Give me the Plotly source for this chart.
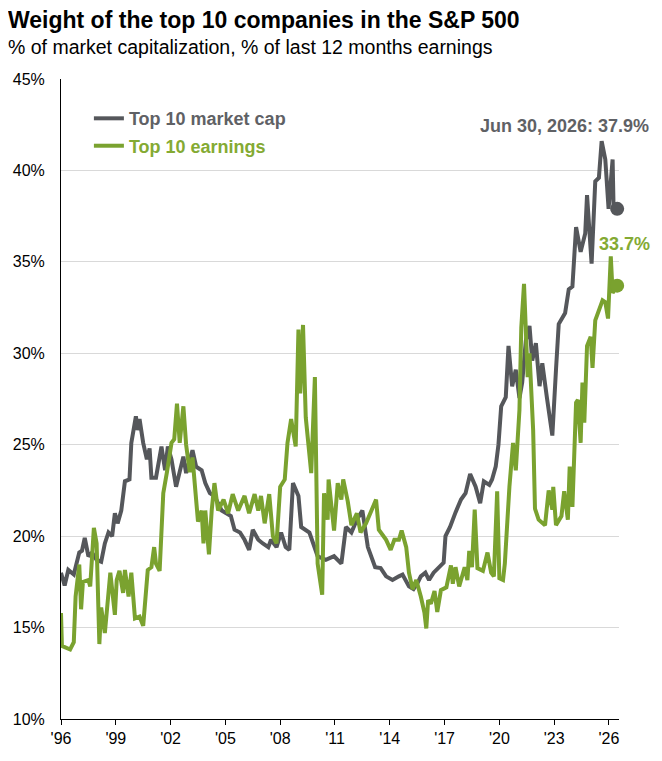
import plotly.graph_objects as go

# decimal years, values in %
cap_years = [
    1996.00, 1996.20, 1996.40, 1996.70, 1997.00, 1997.15, 1997.30, 1997.50,
    1997.70, 1997.95, 1998.20, 1998.40, 1998.60, 1998.80, 1998.95, 1999.10,
    1999.30, 1999.50, 1999.75, 1999.85, 2000.10, 2000.20, 2000.30, 2000.50,
    2000.70, 2000.85, 2000.95, 2001.20, 2001.50, 2001.70, 2001.85, 2002.05,
    2002.30, 2002.70, 2002.85, 2003.20, 2003.40, 2003.70, 2003.90, 2004.15,
    2004.40, 2004.80, 2005.05, 2005.30, 2005.50, 2005.80, 2006.05, 2006.30,
    2006.50, 2006.80, 2007.05, 2007.35, 2007.50, 2007.80, 2008.05, 2008.30,
    2008.50, 2008.70, 2009.00, 2009.15, 2009.60, 2009.90, 2010.05, 2010.50,
    2010.95, 2011.35, 2011.60, 2011.90, 2012.20, 2012.50, 2012.80, 2013.20,
    2013.50, 2013.80, 2014.15, 2014.50, 2014.70, 2015.05, 2015.30, 2015.50,
    2015.70, 2015.95, 2016.15, 2016.40, 2016.70, 2016.95, 2017.05, 2017.30,
    2017.60, 2017.90, 2018.15, 2018.40, 2018.70, 2018.95, 2019.15, 2019.45,
    2019.60, 2019.80, 2019.95, 2020.10, 2020.35, 2020.50, 2020.70, 2020.90,
    2021.10, 2021.25, 2021.45, 2021.65, 2021.80, 2022.00, 2022.20, 2022.35,
    2022.60, 2022.90, 2023.10, 2023.25, 2023.60, 2023.80, 2024.00, 2024.20,
    2024.45, 2024.70, 2024.80, 2025.05, 2025.25, 2025.45, 2025.60, 2025.80,
    2025.98, 2026.20, 2026.25, 2026.45,
]
cap_values = [
    18.0, 17.3, 18.15, 17.9, 19.1, 19.2, 19.9, 18.9,
    19.1, 18.7, 18.6, 19.6, 20.2, 20.0, 21.25, 20.7,
    21.4, 23.0, 23.1, 25.1, 26.55, 25.8, 26.4, 25.1,
    24.2, 24.8, 23.2, 23.2, 24.9, 23.6, 24.9, 24.2,
    22.7, 24.35, 23.45, 24.7, 23.8, 23.6, 22.9, 22.35,
    22.2, 21.4, 21.25, 21.1, 20.35, 20.2, 19.8, 19.25,
    20.35, 19.8, 19.6, 19.4, 19.8, 19.4, 20.2, 19.4,
    19.25, 22.9, 22.2, 20.5, 20.2, 19.25, 18.9, 18.7,
    18.9, 18.5, 20.5, 20.2, 20.9, 21.4, 19.4, 18.3,
    18.25, 17.8, 17.6, 17.8, 17.9, 17.25, 17.1, 17.4,
    17.8, 18.0, 17.6, 18.0, 18.3, 18.55, 20.0, 20.5,
    21.3, 22.0, 22.35, 23.4, 22.7, 21.8, 23.0, 22.8,
    23.1, 23.8, 25.0, 27.1, 27.6, 30.4, 28.2, 29.1,
    27.55, 28.4, 30.7, 31.5, 29.6, 30.55, 28.2, 29.45,
    27.6, 25.5, 29.1, 31.6, 32.2, 33.5, 33.65, 36.9,
    35.55, 36.55, 38.65, 34.9, 39.4, 39.6, 41.6, 40.6,
    37.9, 40.6, 38.1, 37.9,
]

earn_years = [
    1996.00, 1996.05, 1996.50, 1996.70, 1996.80, 1997.00, 1997.10, 1997.20,
    1997.50, 1997.60, 1997.80, 1997.95, 1998.10, 1998.20, 1998.40, 1998.70,
    1998.95, 1999.05, 1999.20, 1999.40, 1999.50, 1999.70, 1999.85, 2000.05,
    2000.30, 2000.50, 2000.75, 2000.95, 2001.10, 2001.20, 2001.40, 2001.60,
    2001.80, 2002.05, 2002.20, 2002.35, 2002.50, 2002.70, 2002.85, 2003.05,
    2003.20, 2003.30, 2003.50, 2003.70, 2003.80, 2003.90, 2004.10, 2004.25,
    2004.40, 2004.60, 2004.90, 2005.15, 2005.40, 2005.70, 2006.05, 2006.30,
    2006.60, 2006.80, 2006.95, 2007.15, 2007.40, 2007.60, 2007.80, 2008.00,
    2008.25, 2008.40, 2008.60, 2008.85, 2009.00, 2009.10, 2009.25, 2009.40,
    2009.70, 2009.90, 2010.05, 2010.30, 2010.40, 2010.60, 2010.65, 2010.95,
    2011.15, 2011.35, 2011.45, 2011.70, 2011.90, 2012.20, 2012.40, 2012.70,
    2013.25, 2013.40, 2013.80, 2014.05, 2014.25, 2014.50, 2014.65, 2014.90,
    2015.05, 2015.25, 2015.45, 2015.70, 2015.90, 2016.00, 2016.10, 2016.25,
    2016.45, 2016.60, 2016.80, 2017.10, 2017.35, 2017.45, 2017.60, 2017.80,
    2018.10, 2018.25, 2018.35, 2018.50, 2018.65, 2018.80, 2019.10, 2019.35,
    2019.55, 2019.70, 2019.88, 2020.00, 2020.20, 2020.30, 2020.40, 2020.55,
    2020.75, 2020.90, 2021.10, 2021.20, 2021.35, 2021.55, 2021.65, 2021.85,
    2021.95, 2022.15, 2022.50, 2022.70, 2022.90, 2022.95, 2023.10, 2023.40,
    2023.55, 2023.75, 2023.85, 2024.00, 2024.20, 2024.30, 2024.45, 2024.55,
    2024.65, 2024.80, 2025.00, 2025.10, 2025.25, 2025.45, 2025.65, 2025.80,
    2025.95, 2026.10, 2026.20, 2026.45,
]
earn_values = [
    15.8, 14.0, 13.8, 14.2, 16.7, 18.45, 16.0, 17.5,
    17.6, 17.25, 20.45, 19.6, 14.1, 16.1, 14.7, 18.0,
    15.7, 17.6, 18.1, 16.9, 18.15, 16.7, 18.0, 15.5,
    15.6, 15.1, 18.15, 18.3, 19.4, 18.5, 18.1, 22.35,
    23.5, 25.1, 25.3, 27.25, 25.1, 27.1, 25.0, 23.5,
    24.3, 22.9, 20.8, 21.4, 19.6, 21.4, 19.0, 21.4,
    22.9, 21.4, 22.0, 21.25, 22.3, 21.4, 22.2, 21.25,
    22.3, 21.4, 22.2, 20.7, 22.3, 20.0, 19.6, 22.7,
    23.1, 25.1, 26.4, 24.9, 31.3, 27.8, 31.55, 26.5,
    23.45, 28.7, 18.5, 16.8, 22.35, 20.9, 23.1, 20.3,
    22.9, 22.0, 23.1, 21.9, 20.6, 21.25, 20.2, 20.7,
    22.0, 20.35, 19.8, 19.25, 19.8, 19.8, 20.3, 19.4,
    18.0, 17.1, 17.6, 16.7, 15.8, 14.95, 16.5, 16.3,
    17.0, 15.85, 17.05, 17.2, 18.4, 17.4, 18.3, 17.25,
    18.3, 17.6, 19.2, 18.3, 21.45, 18.25, 18.1, 19.1,
    18.0, 17.8, 22.45, 17.7, 17.6, 18.5, 20.2, 22.7,
    25.1, 23.6, 26.9, 31.4, 33.8, 28.7, 30.0, 25.8,
    21.5, 20.9, 20.6, 22.5, 21.45, 22.7, 20.6, 21.1,
    22.45, 20.9, 23.8, 21.6, 27.3, 27.45, 25.1, 28.4,
    26.2, 30.4, 30.9, 29.2, 31.8, 32.4, 32.9, 32.8,
    31.9, 35.3, 33.3, 33.7,
]

tick_years = [1996, 1999, 2002, 2005, 2008, 2011, 2014, 2017, 2020, 2023, 2026]
tick_labels = ["'96", "'99", "'02", "'05", "'08", "'11", "'14", "'17", "'20", "'23", "'26"]

GREY = '#55575b'
GREEN = '#7aa22f'
FONT = 'Liberation Sans, Arial, sans-serif'

fig = go.Figure()
fig.add_trace(go.Scatter(
    x=cap_years, y=cap_values, mode='lines',
    name='<b><span style="color:#5f6165">Top 10 market cap</span></b>',
    legendgroup='cap', line=dict(color=GREY, width=4)
))
fig.add_trace(go.Scatter(
    x=earn_years, y=earn_values, mode='lines',
    name='<b><span style="color:#84aa33">Top 10 earnings</span></b>',
    legendgroup='earn', line=dict(color=GREEN, width=4)
))
# end-of-series dots
fig.add_trace(go.Scatter(
    x=cap_years[-1:], y=cap_values[-1:], mode='markers', showlegend=False,
    marker=dict(color=GREY, size=14), cliponaxis=False
))
fig.add_trace(go.Scatter(
    x=earn_years[-1:], y=earn_values[-1:], mode='markers', showlegend=False,
    marker=dict(color=GREEN, size=14), cliponaxis=False
))

# the page body adds an 8px offset, so margins are pulled in by 8px
fig.update_layout(
    width=662, height=761,
    margin=dict(l=53, r=51, t=71, b=50),
    paper_bgcolor='white', plot_bgcolor='white',
    font=dict(family=FONT, size=16, color='black'),
    title=dict(
        text='<b>Weight of the top 10 companies in the S&P 500</b>',
        font=dict(size=23, color='black'),
        xref='container', yref='container',
        x=0, xanchor='left', y=1 - 12 / 761, yanchor='middle'
    ),
    xaxis=dict(
        range=[1996, 2026.55], tickvals=tick_years, ticktext=tick_labels,
        showgrid=False, zeroline=False, showline=True, linecolor='black',
        linewidth=1, ticks='outside', ticklen=5, tickcolor='black',
        tickfont=dict(size=16), automargin=False
    ),
    yaxis=dict(
        range=[10, 45], dtick=5, ticksuffix='%', showgrid=True,
        gridcolor='#d9d9d9', gridwidth=1, zeroline=False, showline=True,
        linecolor='black', linewidth=1, ticks='', ticklabelstandoff=12,
        tickfont=dict(size=16), automargin=False
    ),
    legend=dict(
        x=0.050, y=0.967, xanchor='left', yanchor='top',
        bgcolor='rgba(0,0,0,0)', font=dict(size=18),
        traceorder='grouped', tracegroupgap=1
    ),
    annotations=[
        dict(
            text='% of market capitalization, % of last 12 months earnings',
            xref='paper', yref='paper', x=-55 / 558, y=(719 - 47) / 640,
            xanchor='left', yanchor='middle', showarrow=False,
            font=dict(size=19.5, color='black')
        ),
        dict(
            text='<b>Jun 30, 2026: 37.9%</b>',
            xref='paper', yref='paper', x=(651 - 61) / 558, y=(719 - 126) / 640,
            xanchor='right', yanchor='middle', showarrow=False,
            font=dict(size=18, color='#5f6165')
        ),
        dict(
            text='<b>33.7%</b>',
            xref='paper', yref='paper', x=(652 - 61) / 558, y=(719 - 244) / 640,
            xanchor='right', yanchor='middle', showarrow=False,
            font=dict(size=18, color='#84aa33')
        ),
    ]
)

fig.write_html('out.html')
